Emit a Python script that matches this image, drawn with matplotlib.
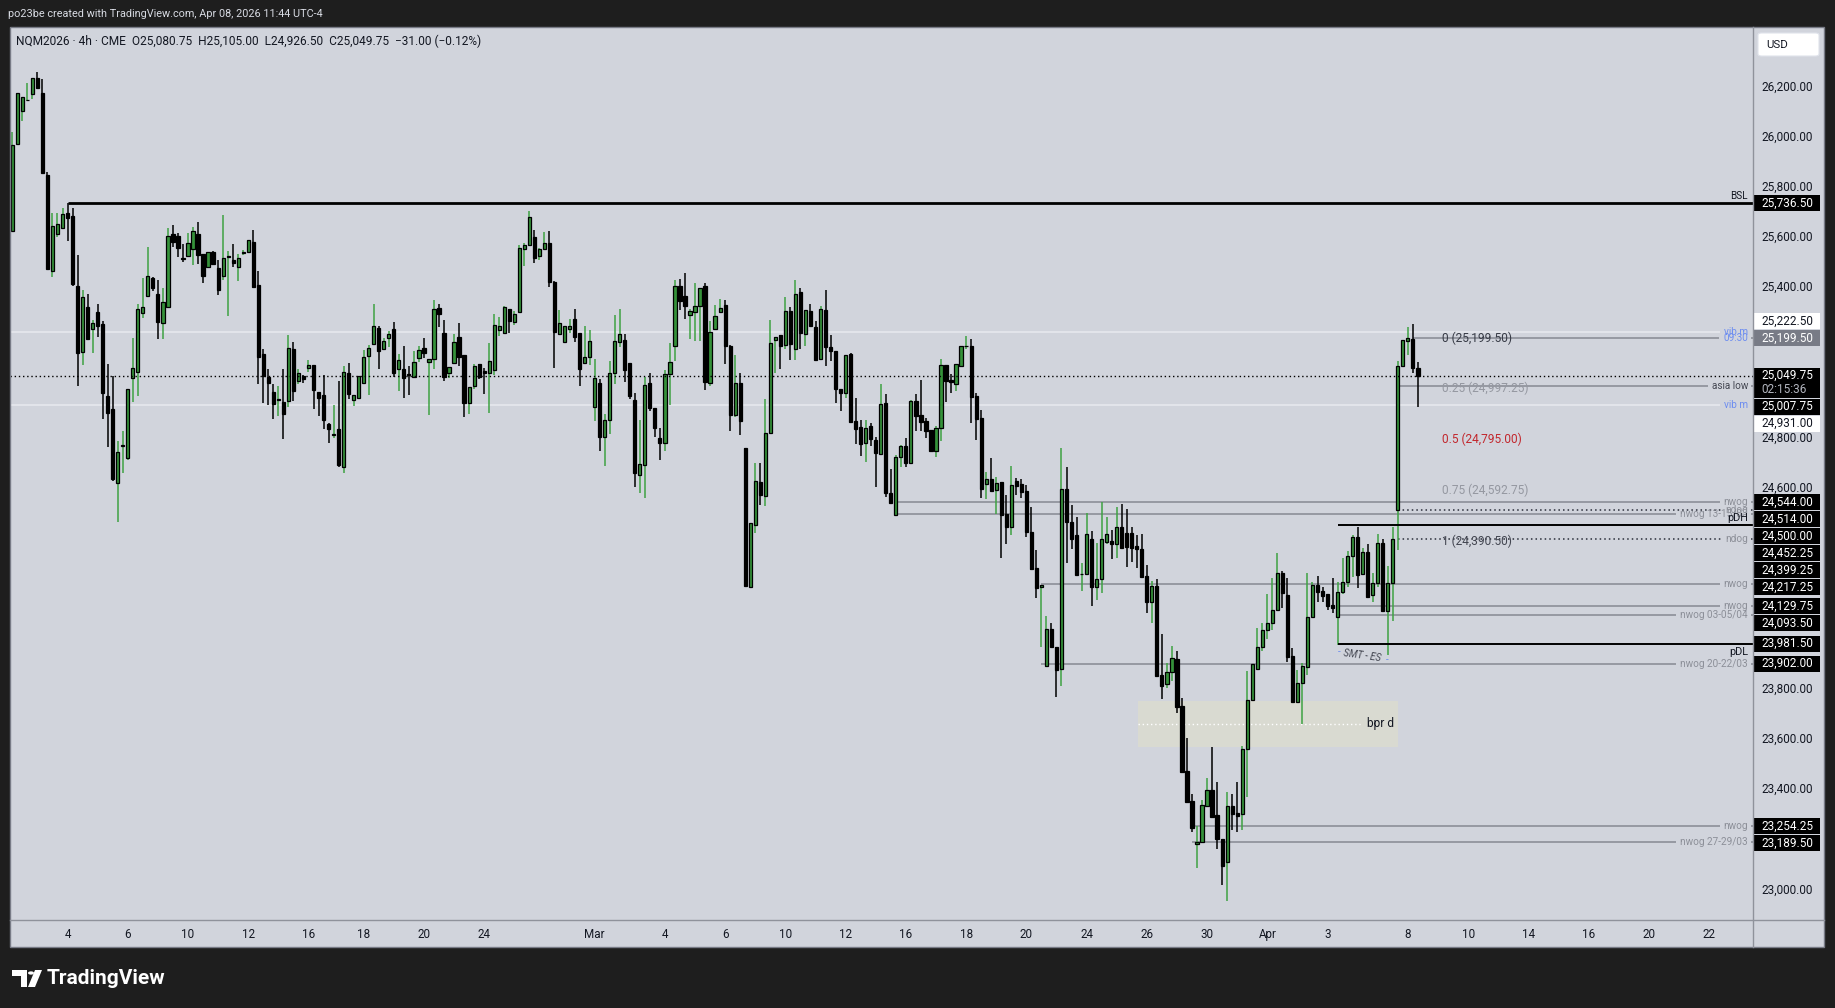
import matplotlib
matplotlib.use("Agg")
import matplotlib.pyplot as plt
import numpy as np
from matplotlib.patches import Rectangle, FancyBboxPatch, Polygon, Circle
from matplotlib.lines import Line2D

plt.rcParams['font.family'] = ['Roboto', 'DejaVu Sans']

# ---------------- data (NQM2026, 4h candles) ----------------
opens = [
    25627, 25971, 26106, 26147, 26171, 26235, 26175, 25848, 25468, 25615,
    25637, 25696, 25686, 25407, 25145, 25323, 25237, 25302, 25254, 24968,
    24916, 24620, 24769, 24723, 25039, 25065, 25298, 25366, 25437, 25374,
    25261, 25324, 25614, 25605, 25518, 25528, 25556, 25614, 25534, 25484,
    25541, 25477, 25448, 25522, 25510, 25481, 25539, 25544, 25582, 25409,
    25134, 25043, 24986, 24952, 24944, 24950, 25154, 25028, 25048, 25079,
    25091, 24983, 24971, 24855, 24812, 24835, 24687, 25059, 24954, 24962,
    25021, 25129, 25174, 25239, 25154, 25201, 25234, 25075, 25075, 25055,
    25045, 25118, 25158, 25105, 25114, 25318, 25221, 25061, 25099, 25203,
    25132, 24939, 25009, 25096, 25068, 25059, 25072, 25231, 25221, 25315,
    25265, 25304, 25554, 25570, 25601, 25526, 25556, 25577, 25421, 25214,
    25185, 25237, 25274, 25218, 25101, 25125, 24926, 25019, 24804, 24873,
    25059, 25185, 25192, 25099, 24952, 24653, 24693, 25019, 24919, 24800,
    24780, 25055, 25169, 25407, 25367, 25291, 25304, 25328, 25407, 25021,
    25237, 25304, 25331, 25168, 24893, 25019, 24760, 24208, 24454, 24624,
    24571, 24820, 25192, 25210, 25173, 25307, 25157, 25383, 25217, 25307,
    25243, 25116, 25311, 25162, 25148, 24996, 24979, 25136, 24867, 24843,
    24780, 24849, 24792, 24736, 24939, 24580, 24494, 24724, 24769, 24700,
    24948, 24893, 24869, 24833, 24750, 24839, 25092, 25032, 25015, 25089,
    25166, 25168, 24968, 24879, 24616, 24636, 24594, 24624, 24497, 24448,
    24630, 24618, 24590, 24425, 24284, 24206, 23893, 24038, 23967, 23879,
    24596, 24465, 24414, 24257, 24258, 24397, 24208, 24238, 24388, 24392,
    24377, 24448, 24421, 24421, 24370, 24357, 24251, 24149, 24211, 23856,
    23819, 23867, 23919, 23733, 23474, 23354, 23181, 23192, 23334, 23398,
    23298, 23203, 23112, 23334, 23305, 23301, 23561, 23757, 23880, 23969,
    24036, 24065, 24115, 24264, 24175, 23933, 23750, 23826, 23889, 24086,
    24215, 24191, 24178, 24135, 24086, 24188, 24226, 24332, 24405, 24258,
    24345, 24174, 24222, 24381, 24113, 24222, 24514, 25089, 25189, 25194,
    25080.75,
]
highs = [
    26022, 26175, 26162, 26215, 26235, 26258, 26231, 25861, 25696, 25696,
    25716, 25736.5, 25716, 25530, 25391, 25375, 25271, 25335, 25267, 25096,
    25048, 24789, 24829, 24995, 25201, 25334, 25437, 25561, 25444, 25431,
    25399, 25638, 25651, 25617, 25574, 25619, 25643, 25661, 25534, 25541,
    25545, 25510, 25690, 25546, 25574, 25534, 25550, 25589, 25630, 25467,
    25156, 25076, 25016, 25008, 25076, 25211, 25184, 25076, 25052, 25112,
    25091, 24983, 25051, 24859, 24932, 25028, 25088, 25100, 24974, 25049,
    25152, 25172, 25335, 25247, 25198, 25226, 25262, 25136, 25168, 25088,
    25146, 25168, 25199, 25114, 25351, 25335, 25271, 25083, 25215, 25258,
    25132, 25003, 25096, 25096, 25079, 25178, 25295, 25285, 25327, 25315,
    25307, 25570, 25577, 25706, 25630, 25557, 25622, 25625, 25427, 25311,
    25247, 25274, 25315, 25221, 25247, 25231, 25114, 25035, 24897, 25109,
    25291, 25315, 25215, 25099, 24979, 24873, 25045, 25061, 24919, 24839,
    25072, 25178, 25431, 25433, 25457, 25314, 25417, 25398, 25420, 25267,
    25331, 25355, 25351, 25172, 25132, 25059, 24760, 24461, 24703, 24703,
    24956, 25271, 25205, 25210, 25364, 25324, 25431, 25398, 25311, 25335,
    25267, 25327, 25391, 25211, 25148, 24996, 25132, 25141, 24962, 24873,
    24873, 24859, 24805, 25016, 24976, 24677, 24733, 24773, 24800, 24952,
    24976, 25032, 24882, 24833, 24850, 25116, 25092, 25056, 25095, 25168,
    25207, 25196, 24982, 24913, 24667, 24720, 24647, 24624, 24574, 24689,
    24640, 24636, 24614, 24525, 24355, 24215, 24091, 24062, 23967, 24760,
    24684, 24534, 24485, 24301, 24501, 24430, 24381, 24545, 24487, 24434,
    24527, 24538, 24518, 24448, 24414, 24418, 24295, 24231, 24239, 24020,
    23903, 23972, 23953, 23766, 23604, 23381, 23256, 23358, 23444, 23571,
    23431, 23203, 23391, 23382, 23431, 23573, 23874, 23899, 24042, 24065,
    24179, 24244, 24341, 24272, 24242, 23962, 23876, 23903, 24262, 24228,
    24252, 24208, 24178, 24242, 24228, 24321, 24351, 24414, 24448, 24361,
    24377, 24262, 24417, 24397, 24292, 24448, 25108, 25192, 25245, 25255,
    25105,
]
lows = [
    25627, 25971, 26066, 26145, 26151, 26195, 25859, 25473, 25444, 25603,
    25637, 25587, 25407, 25008, 25092, 25197, 25141, 25205, 24875, 24766,
    24631, 24467, 24663, 24713, 24946, 24970, 25278, 25366, 25388, 25197,
    25197, 25324, 25564, 25524, 25504, 25528, 25492, 25494, 25420, 25484,
    25496, 25371, 25431, 25287, 25484, 25428, 25530, 25544, 25404, 25016,
    24939, 24932, 24878, 24889, 24798, 24926, 24950, 25016, 25019, 25065,
    24917, 24889, 24838, 24782, 24800, 24687, 24663, 24956, 24930, 24956,
    25021, 24974, 25174, 25077, 25152, 25165, 25045, 24990, 24962, 24974,
    25045, 25105, 25118, 24893, 25076, 25245, 25029, 25039, 25099, 25088,
    24886, 24897, 24996, 25036, 24976, 24902, 25052, 25207, 25221, 25221,
    25251, 25304, 25487, 25570, 25500, 25510, 25556, 25404, 25081, 25214,
    25178, 25221, 25185, 25008, 25101, 25092, 24870, 24750, 24689, 24817,
    25016, 25165, 25025, 24956, 24607, 24583, 24560, 24910, 24806, 24713,
    24750, 24932, 25109, 25311, 25275, 25196, 25189, 25189, 24992, 25008,
    25237, 25298, 25096, 24830, 24886, 24814, 24212, 24208, 24424, 24534,
    24530, 24820, 25059, 25076, 25156, 25112, 25112, 25156, 25168, 25249,
    25112, 25116, 25088, 25109, 24942, 24910, 24962, 24866, 24776, 24731,
    24704, 24770, 24607, 24736, 24564, 24541, 24490, 24684, 24687, 24700,
    24830, 24830, 24802, 24750, 24727, 24790, 24946, 24982, 24990, 25089,
    25154, 24862, 24793, 24563, 24558, 24591, 24498, 24324, 24377, 24414,
    24574, 24560, 24408, 24275, 24162, 23969, 23887, 23969, 23770, 23812,
    24304, 24357, 24255, 24192, 24258, 24133, 24155, 24184, 24378, 24317,
    24321, 24357, 24285, 24308, 24281, 24248, 24105, 24062, 23852, 23759,
    23803, 23834, 23706, 23467, 23347, 23229, 23088, 23192, 23334, 23292,
    23163, 23019, 22957, 23238, 23232, 23238, 23371, 23757, 23880, 23953,
    23998, 24036, 24115, 24125, 23909, 23750, 23750, 23661, 23856, 24086,
    24149, 24146, 24115, 24105, 23976, 24179, 24206, 24248, 24202, 24255,
    24164, 24149, 24206, 24113, 23936, 24073, 24355, 25085, 25132, 25061,
    24926.5,
]
closes = [
    25969, 26175, 26162, 26149, 26235, 26195, 25859, 25473, 25645, 25653,
    25692, 25679, 25415, 25138, 25363, 25197, 25258, 25249, 24982, 24902,
    24639, 24744, 24771, 24995, 25079, 25314, 25322, 25445, 25400, 25265,
    25342, 25605, 25584, 25560, 25516, 25578, 25625, 25530, 25448, 25541,
    25496, 25391, 25517, 25524, 25498, 25517, 25541, 25589, 25404, 25125,
    25048, 25022, 24935, 24954, 24898, 25158, 24990, 25059, 25035, 25091,
    24992, 24962, 24874, 24838, 24814, 24693, 25063, 24978, 24974, 25049,
    25122, 25161, 25246, 25149, 25188, 25215, 25061, 25110, 25039, 25053,
    25103, 25150, 25141, 25114, 25314, 25296, 25045, 25083, 25182, 25125,
    24939, 25003, 25087, 25045, 25061, 25106, 25250, 25247, 25322, 25269,
    25294, 25557, 25570, 25680, 25520, 25553, 25577, 25424, 25225, 25258,
    25247, 25247, 25205, 25076, 25122, 25188, 25039, 24804, 24873, 25059,
    25188, 25214, 25072, 24970, 24660, 24696, 25012, 24919, 24839, 24780,
    25055, 25103, 25407, 25348, 25328, 25307, 25327, 25398, 25025, 25222,
    25287, 25318, 25169, 24893, 25019, 24870, 24212, 24461, 24630, 24574,
    24820, 25178, 25205, 25169, 25307, 25176, 25375, 25221, 25311, 25249,
    25112, 25314, 25165, 25149, 24996, 24982, 25132, 24866, 24835, 24776,
    24839, 24796, 24740, 24935, 24580, 24541, 24724, 24769, 24700, 24948,
    24890, 24866, 24830, 24750, 24839, 25092, 25029, 25023, 25095, 25168,
    25167, 24966, 24875, 24598, 24636, 24591, 24623, 24494, 24448, 24612,
    24611, 24587, 24428, 24277, 24204, 24215, 24038, 23969, 23876, 24596,
    24465, 24397, 24255, 24258, 24417, 24208, 24238, 24397, 24417, 24377,
    24448, 24364, 24365, 24361, 24357, 24248, 24149, 24211, 23852, 23812,
    23867, 23923, 23730, 23471, 23351, 23245, 23192, 23337, 23398, 23292,
    23203, 23096, 23334, 23302, 23294, 23561, 23757, 23899, 23969, 24036,
    24062, 24115, 24262, 24182, 23929, 23750, 23823, 23892, 24086, 24215,
    24188, 24172, 24133, 24125, 24188, 24226, 24332, 24405, 24255, 24345,
    24168, 24222, 24381, 24113, 24222, 24399.25, 25089, 25192, 25198, 25080.75,
    25049.75,
]

# time axis labels (bar index of the first bar of the day)
date_ticks = [11, 23, 35, 47, 59, 70, 82, 94, 116, 130, 142, 154, 166, 178,
              190, 202, 214, 226, 238, 250, 262, 278, 290, 302, 314, 326, 338]
date_labels = ['4', '6', '10', '12', '16', '18', '20', '24', 'Mar', '4', '6', '10', '12', '16',
               '18', '20', '24', '26', '30', 'Apr', '3', '8', '10', '14', '16', '20', '22']
price_ticks = list(range(23000, 26201, 200))

# drawn levels
bsl_price = 25736.5
bsl_start = 11
pdh_price = 24452.25
pdl_price = 23981.5
pd_start = 264
nwog_names = ['13-15/03', '20-22/03', '27-29/03', '03-05/04']
nwog_tops = [24544.0, 24217.25, 23254.25, 24129.75]
nwog_bottoms = [24500.0, 23902.0, 23189.5, 24093.5]
nwog_starts = [176, 205, 235, 264]
ndog_levels = [24514.0, 24399.25]
ndog_start = 276
vib_levels = [25222.5, 24931.0]
open_0930 = 25199.5
open_0930_start = 279
asia_low = 25007.75
asia_start = 276.4
fib_high, fib_low = 25199.5, 24390.5
fib_ratios = [0, 0.25, 0.5, 0.75, 1]
bpr_top, bpr_bottom = 23752.0, 23570.0
bpr_left, bpr_right = 224.2, 276.0
last_price = closes[-1]

# ---------------- layout ----------------
W, H = 1835, 1008
DARK = '#1e1e1e'
BG = '#d1d4dc'
TXT = '#131722'
GREY = '#8c8f98'
BLUE = '#6d8df0'
UP_BODY = '#35923a'
UP_WICK = '#3ea243'
SCALE_FS = 8.5

PANE_L, PANE_T, PANE_R, PANE_B = 10, 27, 1753, 920
SCALE_R, TIME_B = 1824, 947
BAR0_PX, BAR_PX = 12.3, 5.02
P_TOP, P_BOT = 26439.2, 22879.7
PX_PER_PT = (PANE_B - PANE_T) / (P_TOP - P_BOT)
LABEL_R = 1748


def bx(px):
    return (px - BAR0_PX) / BAR_PX


def py(p):
    return PANE_T + (P_TOP - p) * PX_PER_PT


def yp(y):
    return P_TOP - (y - PANE_T) / PX_PER_PT


def frac(x0, y0, x1, y1):
    return [x0 / W, 1 - y1 / H, (x1 - x0) / W, (y1 - y0) / H]


def clean(a):
    a.set_xticks([])
    a.set_yticks([])
    for s in a.spines.values():
        s.set_visible(False)


fig = plt.figure(figsize=(W / 100, H / 100), dpi=100, facecolor=DARK)
ax = fig.add_axes(frac(PANE_L, PANE_T, PANE_R, PANE_B), facecolor=BG)
ax.set_xlim(bx(PANE_L), bx(PANE_R))
ax.set_ylim(P_BOT, P_TOP)
clean(ax)

# ---------------- candles ----------------
o = np.array(opens, float)
h = np.array(highs, float)
l = np.array(lows, float)
c = np.array(closes, float)
idx = np.arange(len(o))
up = c >= o
body_lo = np.minimum(o, c)
body_h = np.maximum(np.abs(c - o), 3.0)

ax.vlines(idx[up], l[up], h[up], color=UP_WICK, lw=1.1, zorder=3)
ax.vlines(idx[~up], l[~up], h[~up], color='black', lw=1.1, zorder=3)
ax.bar(idx[up], body_h[up], bottom=body_lo[up], width=0.64, color=UP_BODY,
       edgecolor='black', linewidth=0.9, zorder=4)
ax.bar(idx[~up], body_h[~up], bottom=body_lo[~up], width=0.64, color='black',
       edgecolor='black', linewidth=0.9, zorder=4)

# ---------------- bpr box ----------------
ax.add_patch(Rectangle((bpr_left, bpr_bottom), bpr_right - bpr_left, bpr_top - bpr_bottom,
                       facecolor='#d9dad1', edgecolor='none', zorder=1))
bpr_mid = (bpr_top + bpr_bottom) / 2
ax.hlines(bpr_mid, bpr_left, bx(1360), color='white', lw=1, linestyles=(0, (1, 2)), zorder=2)
ax.text(bx(1394), bpr_mid, 'bpr d', ha='right', va='center', fontsize=8.6, color=TXT, zorder=6)

# ---------------- labelled levels ----------------
renderer = fig.canvas.get_renderer()
pending = []


def level(price, start, label, color=GREY, tcolor=GREY, ls='-', lw=1.2, tail=True, z=2):
    t = ax.text(bx(LABEL_R), price, label, ha='right', va='center', fontsize=7.2,
                color=tcolor, zorder=6)
    pending.append((t, price, start, color, ls, lw, tail, z))


for name, top, bot, st in zip(nwog_names, nwog_tops, nwog_bottoms, nwog_starts):
    level(top, st, 'nwog')
    level(bot, st, 'nwog ' + name)
for p in ndog_levels:
    level(p, ndog_start, 'ndog', color='#2a2e39', ls=(0, (1, 2)), lw=1.1)
for p in vib_levels:
    level(p, bx(PANE_L), 'vib m', color='#e6e8ee', tcolor=BLUE, tail=False, z=1.5)
level(open_0930, open_0930_start, '09:30', tcolor=BLUE)
level(asia_low, asia_start, 'asia low', tcolor='#434651')

for t, price, start, color, ls, lw, tail, z in pending:
    ext = t.get_window_extent(renderer)
    ax.hlines(price, start, bx(ext.x0 - 4), color=color, lw=lw, linestyles=ls, zorder=z)
    if tail:
        ax.hlines(price, bx(ext.x1 + 3), bx(PANE_R), color=color, lw=lw, linestyles=ls, zorder=z)

# solid black levels
ax.hlines(bsl_price, bsl_start, bx(PANE_R), color='black', lw=2, zorder=5)
ax.text(bx(LABEL_R), yp(py(bsl_price) - 7), 'BSL', ha='right', va='center', fontsize=7.2, color=TXT)
ax.hlines([pdh_price, pdl_price], pd_start, bx(PANE_R), color='black', lw=1.4, zorder=5)
ax.text(bx(LABEL_R), yp(py(pdh_price) - 7), 'pDH', ha='right', va='center', fontsize=7.8,
        color=TXT, zorder=6)
ax.text(bx(LABEL_R), yp(py(pdl_price) + 8.5), 'pDL', ha='right', va='center', fontsize=7.8,
        color=TXT, zorder=6)

# last price dotted line
ax.axhline(last_price, color='black', lw=1, linestyle=(0, (1, 2)), zorder=5)

# fib labels
fib_colors = ['#363a45', '#9598a1', '#c2272d', '#9598a1', '#434651']
for r, col in zip(fib_ratios, fib_colors):
    lv = fib_high - r * (fib_high - fib_low)
    ax.text(bx(1441.7), lv, f"{r:g} ({lv:,.2f})", ha='left', va='center', fontsize=8.6,
            color=col, zorder=6)

# SMT note
ax.text(bx(1362), yp(656), 'SMT - ES', ha='center', va='center', rotation=-8,
        fontsize=7, style='italic', color='#434651', zorder=6)
ax.text(bx(1339), yp(652), '-', ha='center', va='center', fontsize=7, color=BLUE, zorder=6)
ax.text(bx(1387), yp(660), '-', ha='center', va='center', fontsize=7, color=BLUE, zorder=6)

# ---------------- price scale ----------------
ax_r = fig.add_axes(frac(PANE_R, PANE_T, SCALE_R, PANE_B), facecolor=BG)
ax_r.set_xlim(0, SCALE_R - PANE_R)
ax_r.set_ylim(P_BOT, P_TOP)
clean(ax_r)

black_prices = [bsl_price, asia_low, pdh_price, pdl_price] + ndog_levels + nwog_tops + nwog_bottoms
labels = [(p, 'black') for p in black_prices] + [(p, 'white') for p in vib_levels] + [(open_0930, 'gray')]
above = sorted([x for x in labels if x[0] > last_price], key=lambda x: x[0])
below = sorted([x for x in labels if x[0] < last_price], key=lambda x: -x[0])
y_last = py(last_price)
placed = []
lim = y_last - 17
for p, kind in above:
    y = min(py(p), lim)
    placed.append((p, kind, y))
    lim = y - 17
lim = y_last + 14 + 17
for p, kind in below:
    y = max(py(p), lim)
    placed.append((p, kind, y))
    lim = y + 17

box_styles = {'black': ('black', 'white'), 'white': ('white', TXT), 'gray': ('#787b86', 'white')}
for p, kind, y in placed:
    fc, tc = box_styles[kind]
    ax_r.add_patch(Rectangle((1, yp(y + 8)), 66, 16 / PX_PER_PT, facecolor=fc, edgecolor='none', zorder=3))
    ax_r.text(8.5, yp(y), f"{p:,.2f}", ha='left', va='center', fontsize=SCALE_FS, color=tc, zorder=4)

ax_r.add_patch(Rectangle((1, yp(y_last + 22)), 66, 30 / PX_PER_PT, facecolor='black',
                         edgecolor='none', zorder=3))
ax_r.text(8.5, last_price, f"{last_price:,.2f}", ha='left', va='center', fontsize=SCALE_FS,
          color='white', zorder=4)
ax_r.text(8.5, yp(y_last + 14), '02:15:36', ha='left', va='center', fontsize=SCALE_FS,
          color='#b2b5be', zorder=4)

box_centres = [y for _, _, y in placed] + [y_last, y_last + 14]
for tk in price_ticks:
    yt = py(tk)
    if min(abs(yt - yc) for yc in box_centres) < 12.5:
        continue
    ax_r.text(8.5, tk, f"{tk:,.2f}", ha='left', va='center', fontsize=SCALE_FS, color=TXT, zorder=2)

# USD button
fig.add_artist(FancyBboxPatch((1758 / W, 1 - 56 / H), 61 / W, 23 / H,
                              boxstyle='round,pad=0,rounding_size=0.002',
                              transform=fig.transFigure, facecolor='white', edgecolor='#e0e3eb', lw=0.8))
fig.text(1766 / W, 1 - 44.5 / H, 'USD', ha='left', va='center', fontsize=8.2, color=TXT)

# ---------------- time scale ----------------
ax_t = fig.add_axes(frac(PANE_L, PANE_B, PANE_R, TIME_B), facecolor=BG)
ax_t.set_xlim(ax.get_xlim())
ax_t.set_ylim(0, 1)
clean(ax_t)
for x, lab in zip(date_ticks, date_labels):
    ax_t.text(x, 0.48, lab, ha='center', va='center', fontsize=8.4, color=TXT)
ax_c = fig.add_axes(frac(PANE_R, PANE_B, SCALE_R, TIME_B), facecolor=BG)
clean(ax_c)

# separators / border
sep = '#8f929b'
fig.add_artist(Line2D([PANE_R / W, PANE_R / W], [1 - PANE_T / H, 1 - TIME_B / H], color=sep, lw=1))
fig.add_artist(Line2D([PANE_L / W, SCALE_R / W], [1 - PANE_B / H, 1 - PANE_B / H], color=sep, lw=1))
fig.add_artist(Rectangle((PANE_L / W, 1 - TIME_B / H), (SCALE_R - PANE_L) / W, (TIME_B - PANE_T) / H,
                         transform=fig.transFigure, facecolor='none', edgecolor='#787b86', lw=1))

# ---------------- header / footer ----------------
fig.text(8 / W, 1 - 14 / H, 'po23be created with TradingView.com, Apr 08, 2026 11:44 UTC-4',
         ha='left', va='center', fontsize=7.8, color='#d8dbe3')
chg = closes[-1] - closes[-2]
legend = (f"NQM2026 · 4h · CME  O{opens[-1]:,.2f}  H{highs[-1]:,.2f}  L{lows[-1]:,.2f}  "
          f"C{closes[-1]:,.2f}  {chg:+.2f} ({chg / closes[-2] * 100:+.2f}%)").replace('-', '−')
fig.text(16 / W, 1 - 41 / H, legend, ha='left', va='center', fontsize=8.6, color=TXT)


def fpx(x, y):
    return (x / W, 1 - y / H)


fig.add_artist(Polygon([fpx(12, 970), fpx(27, 970), fpx(27, 987), fpx(21, 987), fpx(21, 976), fpx(12, 976)],
                       closed=True, transform=fig.transFigure, facecolor='white', edgecolor='none'))
fig.add_artist(Circle(fpx(31, 973), 3 / W, transform=fig.transFigure, facecolor='white', edgecolor='none'))
fig.add_artist(Polygon([fpx(35, 970), fpx(42, 970), fpx(35, 987), fpx(28, 987)],
                       closed=True, transform=fig.transFigure, facecolor='white', edgecolor='none'))
fig.text(47 / W, 1 - 978 / H, 'TradingView', ha='left', va='center', fontsize=15,
         fontweight='bold', color='white')

fig.savefig('out.png', dpi=100, facecolor=DARK)
